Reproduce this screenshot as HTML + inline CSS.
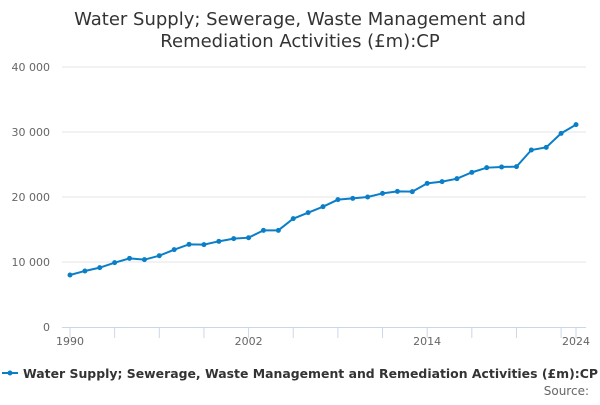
<!DOCTYPE html>
<html><head><meta charset="utf-8"><style>
body{margin:0;background:#fff;font-family:"Liberation Sans","DejaVu Sans",sans-serif}
svg text{font-family:"DejaVu Sans","Liberation Sans",sans-serif}
</style></head><body>
<svg id="c" width="600" height="400">
<text x="300" y="25" text-anchor="middle" font-size="18" fill="#333">Water Supply; Sewerage, Waste Management and</text>
<text x="300" y="47" text-anchor="middle" font-size="18" fill="#333">Remediation Activities (£m):CP</text>
<g id="grid"></g><g id="xa"></g><g id="ser"></g>
<g>
<line x1="2" y1="373" x2="18" y2="373" stroke="#0a7fc8" stroke-width="2"/>
<circle cx="10" cy="373" r="2.5" fill="#0a7fc8"/>
<text x="23" y="378" font-size="12.5" font-weight="bold" fill="#333" textLength="575" lengthAdjust="spacingAndGlyphs">Water Supply; Sewerage, Waste Management and Remediation Activities (£m):CP</text>
</g>
<text x="589" y="395" text-anchor="end" font-size="12" fill="#666">Source:</text>
</svg>
<script>
const years=[1990,1991,1992,1993,1994,1995,1996,1997,1998,1999,2000,2001,2002,2003,2004,2005,2006,2007,2008,2009,2010,2011,2012,2013,2014,2015,2016,2017,2018,2019,2020,2021,2022,2023,2024];
const values=[8000,8620,9130,9900,10560,10360,10970,11900,12720,12670,13180,13590,13740,14870,14870,16670,17590,18510,19590,19790,20000,20560,20870,20820,22100,22360,22820,23790,24510,24620,24670,27230,27640,29790,31130];
const yTicks=[0,10000,20000,30000,40000];
const yTickLabels=["0","10 000","20 000","30 000","40 000"];
const xLabels=[1990,2002,2014,2024];
const NS="http://www.w3.org/2000/svg";
const x=v=>70+(v-1990)*(576-70)/34;
const y=v=>327-v*260/40000;
function mk(p,t,a){const e=document.createElementNS(NS,t);for(const k in a)e.setAttribute(k,a[k]);p.appendChild(e);return e;}
const g=document.getElementById('grid');
yTicks.forEach((t,i)=>{
 if(t>0){const l=mk(g,'line',{x1:62,x2:586,y1:y(t),y2:y(t),stroke:'#e6e6e6'});
 
 }
 const tx=mk(g,'text',{x:50,y:y(t)+4,'text-anchor':'end','font-size':11,fill:'#666'});
 tx.textContent=yTickLabels[i];
 
 
});
const xa=document.getElementById('xa');
const ax=mk(xa,'line',{x1:62,x2:586,y1:327.5,y2:327.5,stroke:'#ccd6eb'});


for(let yr=1990;yr<=2024;yr+=3){const t=mk(xa,'line',{x1:x(yr),x2:x(yr),y1:328,y2:338,stroke:'#ccd6eb'});
 
 }
const t2=mk(xa,'line',{x1:x(2024),x2:x(2024),y1:328,y2:338,stroke:'#ccd6eb'});


xLabels.forEach(v=>{const t=mk(xa,'text',{x:x(v),y:345,'text-anchor':'middle','font-size':11,fill:'#666'});
 t.textContent=v;
 
 });
const s=document.getElementById('ser');
const pl=mk(s,'polyline',{points:years.map((yr,i)=>x(yr)+','+y(values[i])).join(' '),fill:'none',stroke:'#0a7fc8','stroke-width':2});


years.forEach((yr,i)=>{const c=mk(s,'circle',{cx:x(yr),cy:y(values[i]),r:2.5,fill:'#0a7fc8'});
 
 });
</script>
</body></html>
